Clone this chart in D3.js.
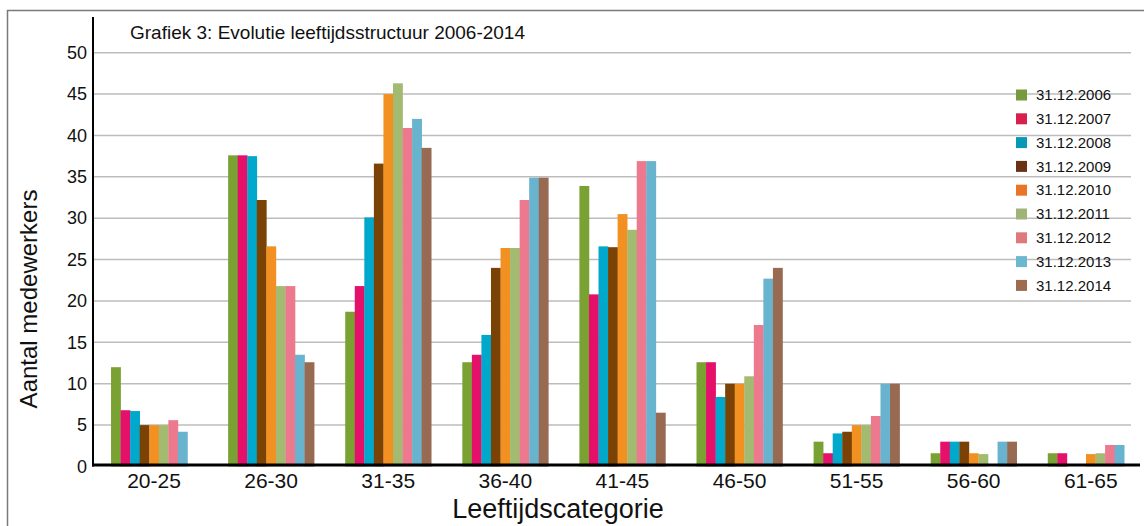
<!DOCTYPE html>
<html>
<head>
<meta charset="utf-8">
<script src="https://cdn.jsdelivr.net/npm/d3@7"></script>
<style>
  html, body { margin: 0; padding: 0; background: #fff; }
  svg { display: block; font-family: Arial, "Liberation Sans", Helvetica, sans-serif; }
</style>
</head>
<body>
<svg id="chart" width="1144" height="526"></svg>
<script>
// ---- data ----
const categories = ["20-25", "26-30", "31-35", "36-40", "41-45", "46-50", "51-55", "56-60", "61-65"];
const seriesNames = ["31.12.2006", "31.12.2007", "31.12.2008", "31.12.2009", "31.12.2010",
                     "31.12.2011", "31.12.2012", "31.12.2013", "31.12.2014"];
const s2006 = [12.0, 37.6, 18.7, 12.6, 33.9, 12.6, 3.0, 1.6, 1.6];
const s2007 = [6.8, 37.6, 21.8, 13.5, 20.8, 12.6, 1.6, 3.0, 1.6];
const s2008 = [6.7, 37.5, 30.1, 15.9, 26.6, 8.4, 4.0, 3.0, 0];
const s2009 = [5.0, 32.2, 36.6, 24.0, 26.5, 10.0, 4.2, 3.0, 0];
const s2010 = [5.0, 26.6, 45.0, 26.4, 30.5, 10.0, 5.0, 1.6, 1.5];
const s2011 = [5.0, 21.8, 46.3, 26.4, 28.6, 10.9, 5.0, 1.5, 1.6];
const s2012 = [5.6, 21.8, 40.9, 32.2, 36.9, 17.1, 6.1, 0, 2.6];
const s2013 = [4.2, 13.5, 42.0, 34.9, 36.9, 22.7, 10.0, 3.0, 2.6];
const s2014 = [0, 12.6, 38.5, 34.9, 6.5, 24.0, 10.0, 3.0, 0];
const seriesValues = [s2006, s2007, s2008, s2009, s2010, s2011, s2012, s2013, s2014];
const yTicks = [0, 5, 10, 15, 20, 25, 30, 35, 40, 45, 50];

const barColors = ["#7aa233", "#e5106a", "#00a8cc", "#7a4204", "#f29021",
                   "#a3bb70", "#ec798e", "#68b4cf", "#986a51"];
const legendColors = ["#779a3e", "#d8204c", "#0798b5", "#6b3117", "#e87626",
                      "#a1b477", "#e07a7a", "#6bb8d0", "#9c6b50"];

const titleText = "Grafiek 3: Evolutie leeftijdsstructuur 2006-2014";
const yTitle = "Aantal medewerkers";
const xTitle = "Leeftijdscategorie";

// ---- layout ----
const svg = d3.select("#chart");
const plotLeft = 93, plotTop = 17, plotBottom = 466.5;

// outer frame
svg.append("rect")
  .attr("x", 7.5).attr("y", 10.5).attr("width", 1200).attr("height", 600)
  .attr("fill", "none").attr("stroke", "#7a7a7a").attr("stroke-width", 1.5);

const y = d3.scaleLinear().domain([0, 50]).range([plotBottom, 52.7]);

const x0 = d3.scaleBand().domain(categories)
  .range([plotLeft, 1151.8]).paddingInner(0.2656).paddingOuter(0.154);
const x1 = d3.scaleBand().domain(seriesNames).range([0, x0.bandwidth()]).padding(0);

// gridlines
svg.append("g").selectAll("line").data(yTicks.filter(d => d > 0)).join("line")
  .attr("x1", plotLeft).attr("x2", 1131)
  .attr("y1", d => y(d)).attr("y2", d => y(d))
  .attr("stroke", "#bdbdbd").attr("stroke-width", 1.5);

// bars
const rows = categories.map((c, i) => ({ cat: c, vals: seriesNames.map((s, j) => ({ s, j, v: seriesValues[j][i] })) }));
svg.append("g").selectAll("g").data(rows).join("g")
  .attr("transform", d => `translate(${x0(d.cat)},0)`)
  .selectAll("rect").data(d => d.vals.filter(e => e.v > 0)).join("rect")
  .attr("x", d => x1(d.s))
  .attr("width", x1.bandwidth() + 0.3)
  .attr("y", d => y(d.v))
  .attr("height", d => y(0) - y(d.v))
  .attr("fill", d => barColors[d.j]);

// y axis
const yAxis = d3.axisLeft(y).tickValues(yTicks).tickSize(0).tickPadding(6);
const gy = svg.append("g").attr("transform", `translate(${plotLeft},0)`).call(yAxis);
gy.select(".domain").remove();
gy.selectAll("text").attr("font-size", 18).attr("fill", "#111")
  .attr("font-family", "Arial, 'Liberation Sans', sans-serif");
svg.append("line").attr("x1", plotLeft).attr("x2", plotLeft)
  .attr("y1", plotTop).attr("y2", plotBottom)
  .attr("stroke", "#000").attr("stroke-width", 2);

// x axis
const xAxis = d3.axisBottom(x0).tickSize(0).tickPadding(8);
const gx = svg.append("g").attr("transform", `translate(0,${plotBottom - 1.5})`).call(xAxis);
gx.select(".domain").remove();
gx.selectAll("text").attr("font-size", 21).attr("fill", "#111")
  .attr("font-family", "Arial, 'Liberation Sans', sans-serif");
svg.append("line").attr("x1", plotLeft - 1).attr("x2", 1140)
  .attr("y1", plotBottom - 1.5).attr("y2", plotBottom - 1.5)
  .attr("stroke", "#000").attr("stroke-width", 3);

// titles
svg.append("text").attr("x", 130).attr("y", 39)
  .attr("font-size", 19).attr("fill", "#111").text(titleText);
svg.append("text")
  .attr("transform", "translate(37,299) rotate(-90)")
  .attr("text-anchor", "middle").attr("font-size", 24).attr("fill", "#111").text(yTitle);
svg.append("text").attr("x", 558).attr("y", 518)
  .attr("text-anchor", "middle").attr("font-size", 27).attr("fill", "#111").text(xTitle);

// legend
const legend = svg.append("g").selectAll("g").data(seriesNames).join("g")
  .attr("transform", (d, i) => `translate(1016,${95 + i * 23.8})`);
legend.append("rect").attr("x", 0).attr("y", -5.5).attr("width", 11).attr("height", 11)
  .attr("fill", (d, i) => legendColors[i]);
legend.append("text").attr("x", 20).attr("y", 0).attr("dy", "0.35em")
  .attr("font-size", 15).attr("fill", "#111").text(d => d);
</script>
</body>
</html>
